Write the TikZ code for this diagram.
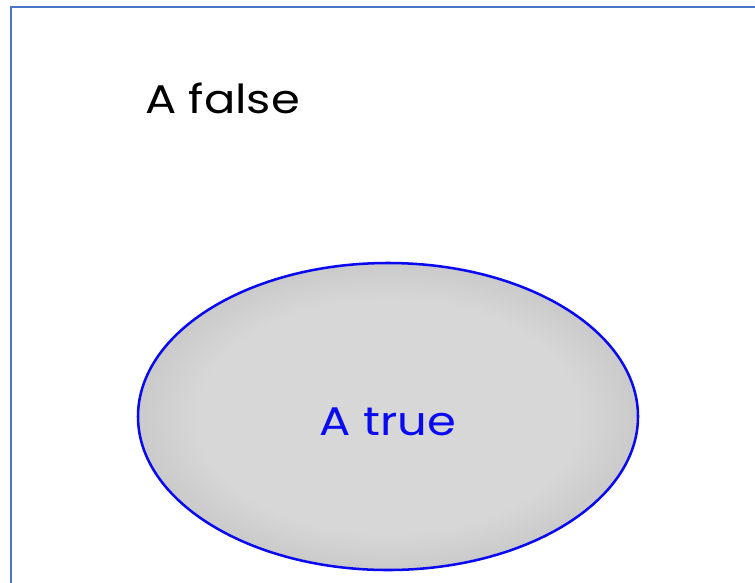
\documentclass[tikz,border=0pt]{standalone}
\usepackage{fontspec}
\setmainfont{Poppins}[FakeStretch=1.16]
\usepackage{xcolor}
\usepackage{tikz}
\usetikzlibrary{positioning}
\definecolor{framemain}{HTML}{4A78C8}
\definecolor{truemain}{HTML}{0A0AF0}
\definecolor{setfill}{HTML}{D7D7D7}
\definecolor{setedge}{HTML}{CACACA}
\pgfdeclareradialshading{setshade}{\pgfpoint{0bp}{0bp}}{color(0bp)=(setfill); color(19bp)=(setfill); color(25bp)=(setedge); color(50bp)=(setedge)}
\tikzset{every node/.append style={font=\rmfamily\fontsize{30}{36}\selectfont}}

\begin{document}
\begin{tikzpicture}[x=0.75pt,y=-0.75pt]
  \useasboundingbox (0,0) rectangle (755,582);
  \clip (0,0) rectangle (755,582);
  % frame of the whole space
  \draw[framemain,line width=2.2pt] (11,7) rectangle (780,610);
  % the set where A holds
  \shade[shading=setshade] (388,416.5) ellipse [x radius=250,y radius=153.5];
  \draw[truemain,line width=1.9pt] (388,416.5) ellipse [x radius=250,y radius=153.5];
  \node[anchor=base west,inner sep=0pt] (afalse) at (145,113) {A false};
  \node[anchor=base,inner sep=0pt,text=truemain] (atrue) at (388,435) {A true};
\end{tikzpicture}
\end{document}
